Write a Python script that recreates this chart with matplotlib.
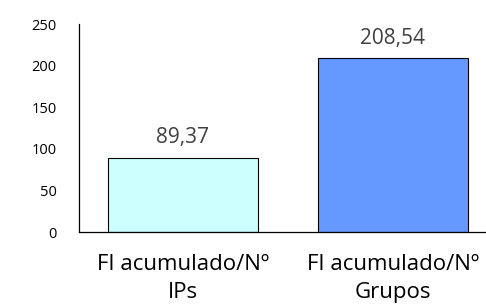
import matplotlib
matplotlib.use("Agg")
import matplotlib.pyplot as plt

categories = ["FI acumulado/Nº\nIPs", "FI acumulado/Nº\nGrupos"]
values = [89.37, 208.54]
labels = ["89,37", "208,54"]
colors = ["#CCFFFF", "#6699FF"]
yticks = [0, 50, 100, 150, 200, 250]

plt.rcParams['font.family'] = ['Open Sans', 'DejaVu Sans']

fig = plt.figure(figsize=(4.86, 3.07), dpi=100)
ax = fig.add_axes([79/486, 1-232/307, 1-79/486, (232-24)/307])
x = list(range(len(values)))
bars = ax.bar(x, values, width=0.714, color=colors, edgecolor="black", linewidth=0.8)
for xi, v, l in zip(x, values, labels):
    ax.annotate(l, (xi, v), xytext=(0, 10.5), textcoords="offset points",
                ha="center", va="baseline", fontsize=15, color="#404040")
ax.set_xlim(-0.495, 0.443 + 1)
ax.set_ylim(0, 250)
ax.set_yticks(yticks)
ax.set_yticklabels([str(t) for t in yticks], fontsize=10.5)
ax.set_xticks(x)
ax.set_xticklabels(categories, fontsize=16, linespacing=1.42)
ax.tick_params(axis="both", length=0)
ax.tick_params(axis="x", pad=16)
ax.tick_params(axis="y", pad=16)
ax.spines["top"].set_visible(False)
ax.spines["right"].set_visible(False)
for s in ("left", "bottom"):
    ax.spines[s].set_linewidth(0.9)
fig.savefig("out.png", dpi=100)
